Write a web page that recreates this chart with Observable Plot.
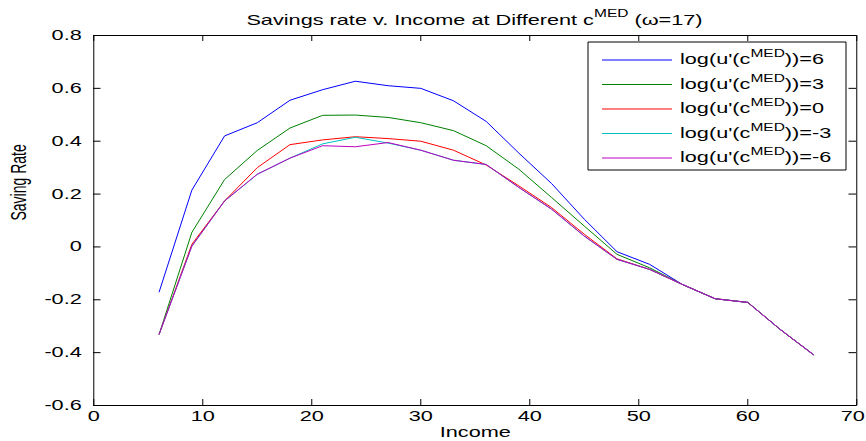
<!DOCTYPE html>
<html>
<head>
<meta charset="utf-8">
<script src="https://cdn.jsdelivr.net/npm/d3@7"></script>
<script src="https://cdn.jsdelivr.net/npm/@observablehq/plot@0.6"></script>
<style>
  html, body { margin: 0; padding: 0; background: #fff; }
  #chart svg { display: block; }
  #chart svg * { vector-effect: non-scaling-stroke; }
</style>
</head>
<body>
<div id="chart"></div>
<script>
// Income grid shared by every series
const income = [6, 9, 12, 15, 18, 21, 24, 27, 30, 33, 36, 39, 42, 45, 48, 51, 54, 57, 60, 63, 66];

// Saving rate at each income level, one array per value of log(u'(c^MED))
const saveLog6    = [-0.17, 0.215, 0.42, 0.47, 0.555, 0.595, 0.627, 0.61, 0.60, 0.553, 0.475, 0.355, 0.24, 0.105, -0.018, -0.066, -0.142, -0.196, -0.21, -0.313, -0.407];
const saveLog3    = [-0.33, 0.055, 0.255, 0.365, 0.45, 0.498, 0.499, 0.49, 0.47, 0.44, 0.383, 0.294, 0.187, 0.079, -0.028, -0.079, -0.142, -0.196, -0.21, -0.313, -0.407];
const saveLog0    = [-0.33, 0.01, 0.174, 0.30, 0.387, 0.405, 0.417, 0.41, 0.40, 0.366, 0.31, 0.231, 0.149, 0.048, -0.045, -0.085, -0.142, -0.196, -0.21, -0.313, -0.407];
const saveLogM3   = [-0.33, 0.003, 0.174, 0.275, 0.336, 0.39, 0.415, 0.393, 0.366, 0.328, 0.312, 0.225, 0.143, 0.041, -0.047, -0.085, -0.142, -0.196, -0.21, -0.313, -0.407];
const saveLogM6   = [-0.33, 0.003, 0.174, 0.275, 0.336, 0.383, 0.379, 0.395, 0.366, 0.328, 0.312, 0.225, 0.143, 0.041, -0.047, -0.085, -0.142, -0.196, -0.21, -0.313, -0.407];

const seriesLevels = ["6", "3", "0", "-3", "-6"];
const seriesValues = [saveLog6, saveLog3, saveLog0, saveLogM3, saveLogM6];
const seriesColors = ["#0000ff", "#008000", "#ff0000", "#00bfbf", "#bf00bf"];

const xTicks = [0, 10, 20, 30, 40, 50, 60, 70];
const yTicks = [-0.6, -0.4, -0.2, 0, 0.2, 0.4, 0.6, 0.8];
const yTickLabels = ["-0.6", "-0.4", "-0.2", "0", "0.2", "0.4", "0.6", "0.8"];

const titleMain = "Savings rate v. Income at Different c";
const titleSup = "MED";
const titleTail = " (\u03c9=17)";
const xLabel = "Income";
const yLabel = "Saving Rate";

// The figure is laid out in a narrower coordinate space and widened
// horizontally, which gives the broad screen-font look of the text.
const W = 866, H = 441;
const sx = 1.55;
const W0 = W / sx;
const mL = 93 / sx, mR = 10 / sx, mT = 35, mB = 36;
const frameW = W0 - mL - mR, frameH = H - mT - mB;
const font = '"Liberation Sans", Arial, Helvetica, sans-serif';

const rows = [];
seriesValues.forEach((vals, k) => vals.forEach((v, i) => rows.push({level: seriesLevels[k], income: income[i], rate: v})));

const plot = Plot.plot({
  width: W0,
  height: H,
  marginLeft: mL,
  marginRight: mR,
  marginTop: mT,
  marginBottom: mB,
  style: {fontFamily: font, fontSize: "14px", background: "#fff", color: "#000"},
  x: {domain: [0, 70]},
  y: {domain: [-0.6, 0.8]},
  marks: [
    // one line per level, drawn in legend order so the last sits on top
    ...seriesLevels.map((lv, k) =>
      Plot.line(rows.filter(r => r.level === lv), {x: "income", y: "rate", stroke: seriesColors[k], strokeWidth: 1})
    ),
    // inward tick marks on all four sides of the box
    Plot.ruleX(xTicks, {x: d => d, insetTop: frameH - 6, stroke: "#000"}),
    Plot.ruleX(xTicks, {x: d => d, insetBottom: frameH - 6, stroke: "#000"}),
    Plot.ruleY(yTicks, {y: d => d, insetRight: frameW - 7.5 / sx, stroke: "#000"}),
    Plot.ruleY(yTicks, {y: d => d, insetLeft: frameW - 7.5 / sx, stroke: "#000"}),
    // tick labels; the last one is nudged in so it stays inside the figure
    Plot.axisX({ticks: xTicks.slice(0, -1), tickSize: 0, tickPadding: 6, tickFormat: d => String(d), label: null, fontSize: 14}),
    Plot.axisX({ticks: xTicks.slice(-1), tickSize: 0, tickPadding: 6, tickFormat: d => String(d), label: null, fontSize: 14, dx: -4 / sx}),
    Plot.axisY({ticks: yTicks, tickSize: 0, tickPadding: 12 / sx, tickFormat: d => yTickLabels[yTicks.indexOf(d)], label: null, fontSize: 14}),
    Plot.frame({stroke: "#000", strokeWidth: 1}),
    Plot.text([xLabel], {frameAnchor: "bottom", dy: 27, lineAnchor: "middle", fontSize: 14}),
    Plot.text([yLabel], {frameAnchor: "left", dx: -75 / sx, rotate: -90, fontSize: 14})
  ]
});

const svg = d3.select(plot);
svg.attr("width", W).attr("height", H)
  .attr("preserveAspectRatio", "none")
  .style("width", W + "px").style("height", H + "px").style("max-width", "none");

// title with superscript
const title = svg.append("text")
  .attr("x", mL + frameW / 2).attr("y", 25)
  .attr("text-anchor", "middle")
  .attr("font-family", font).attr("font-size", 14).attr("fill", "#000");
title.append("tspan").text(titleMain);
title.append("tspan").attr("font-size", 10).attr("dy", -8).text(titleSup);
title.append("tspan").attr("dy", 8).text(titleTail);

// legend box
const lg = {left: 588 / sx, top: 42, right: 846 / sx, bottom: 170};
const legend = svg.append("g")
  .attr("font-family", font).attr("font-size", 14).attr("text-anchor", "start");
legend.append("rect")
  .attr("x", lg.left).attr("y", lg.top)
  .attr("width", lg.right - lg.left).attr("height", lg.bottom - lg.top)
  .attr("fill", "#fff").attr("stroke", "#000").attr("stroke-width", 1);
seriesLevels.forEach((lv, k) => {
  const cy = 60 + k * 24.5;
  legend.append("line")
    .attr("x1", 602 / sx).attr("x2", 672 / sx)
    .attr("y1", cy).attr("y2", cy)
    .attr("stroke", seriesColors[k]).attr("stroke-width", 1);
  const t = legend.append("text")
    .attr("x", 680 / sx).attr("y", cy + 4.5)
    .attr("text-anchor", "start").attr("fill", "#000");
  t.append("tspan").text("log(u'(c");
  t.append("tspan").attr("font-size", 10).attr("dy", -7).text("MED");
  t.append("tspan").attr("dy", 7).text("))=" + lv);
});

document.getElementById("chart").appendChild(plot);
</script>
</body>
</html>
